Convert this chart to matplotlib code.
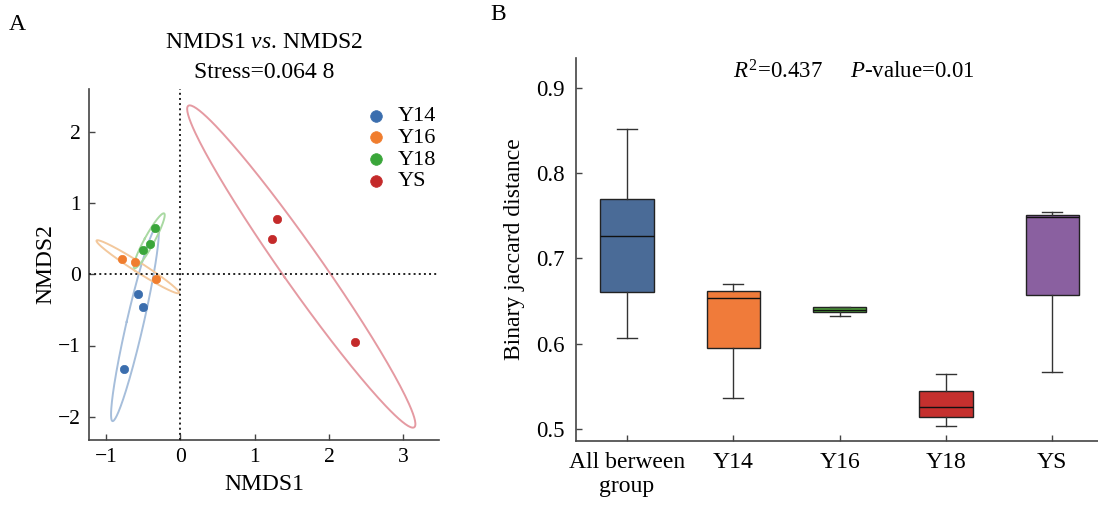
import numpy as np
import matplotlib as mpl
mpl.use('Agg')
import matplotlib.pyplot as plt

mpl.rcParams['font.family'] = 'Liberation Serif'
mpl.rcParams['mathtext.fontset'] = 'custom'
mpl.rcParams['mathtext.rm'] = 'Liberation Serif'
mpl.rcParams['mathtext.it'] = 'Liberation Serif:italic'
mpl.rcParams['axes.unicode_minus'] = True

# ---- panel A data (NMDS scores) ----
groups = ['Y14', 'Y16', 'Y18', 'YS']
nmds1 = {
    'Y14': [-0.76, -0.565, -0.51],
    'Y16': [-0.78, -0.61, -0.33],
    'Y18': [-0.51, -0.41, -0.34],
    'YS': [1.30, 1.23, 2.35],
}
nmds2 = {
    'Y14': [-1.33, -0.28, -0.46],
    'Y16': [0.22, 0.17, -0.066],
    'Y18': [0.345, 0.425, 0.65],
    'YS': [0.785, 0.495, -0.945],
}
point_colors = ['#3b6eae', '#f07d2e', '#3aa63a', '#c42a2a']
ellipse_colors = ['#a6bedb', '#f3c89c', '#a9d9a2', '#e59aa2']

# ---- panel B data (box stats) ----
box_labels = ['All berween\ngroup', 'Y14', 'Y16', 'Y18', 'YS']
whislo = [0.607, 0.536, 0.632, 0.504, 0.567]
q1 = [0.661, 0.595, 0.637, 0.514, 0.657]
med = [0.726, 0.654, 0.640, 0.526, 0.749]
q3 = [0.770, 0.662, 0.643, 0.545, 0.751]
whishi = [0.852, 0.670, 0.643, 0.565, 0.755]
box_colors = ['#4a6b97', '#f07b3a', '#4f9e3b', '#c5302e', '#8a60a0']


def conf_ellipse(x, y, scale=np.sqrt(5.991), n=200):
    # 95% normal ellipse from sample covariance
    x = np.asarray(x)
    y = np.asarray(y)
    cov = np.cov(x, y)
    vals, vecs = np.linalg.eigh(cov)
    t = np.linspace(0, 2*np.pi, n)
    circ = np.vstack([np.cos(t), np.sin(t)])
    pts = vecs @ (np.sqrt(np.maximum(vals, 0))[:, None]*circ)*scale
    return x.mean() + pts[0], y.mean() + pts[1]


fig = plt.figure(figsize=(10.98, 5.05), dpi=100)

# ---------------- panel A ----------------
axA = fig.add_axes([89/1098, 65/505, 350/1098, 351/505])
for g, pc, ec in zip(groups, point_colors, ellipse_colors):
    ex, ey = conf_ellipse(nmds1[g], nmds2[g])
    axA.plot(ex, ey, color=ec, lw=1.4, zorder=2)
for g, pc in zip(groups, point_colors):
    axA.scatter(nmds1[g], nmds2[g], s=36, color=pc, edgecolors=pc, linewidths=0.5,
                zorder=4, label=g)
axA.axhline(0, color='#222222', ls=':', lw=1.4, zorder=3)
axA.axvline(0, color='#222222', ls=':', lw=1.4, zorder=3)
axA.set_xlim(-1.23, 3.48)
axA.set_ylim(-2.33, 2.61)
axA.set_xticks([-1, 0, 1, 2, 3])
axA.set_yticks([-2, -1, 0, 1, 2])
for s in ['top', 'right']:
    axA.spines[s].set_visible(False)
for s in ['left', 'bottom']:
    axA.spines[s].set_color('#444444')
    axA.spines[s].set_linewidth(1.2)
axA.tick_params(direction='in', length=4, width=1, color='#444444', labelsize=15.5, pad=6)
axA.set_xlabel('NMDS1', fontsize=17, labelpad=5)
axA.set_ylabel('NMDS2', fontsize=17, labelpad=1)
axA.legend(loc='upper right', bbox_to_anchor=(1.03, 0.99), frameon=False, fontsize=16,
           handletextpad=0.0, labelspacing=0.05, markerscale=1.4, borderaxespad=0.2)
fig.text(264/1098, 1 - 42/505, 'NMDS1 $\\mathit{vs}$. NMDS2', ha='center', va='center', fontsize=17)
fig.text(264/1098, 1 - 72/505, 'Stress=0.064 8', ha='center', va='center', fontsize=17)
fig.text(17/1098, 1 - 24/505, 'A', ha='center', va='center', fontsize=17)

# ---------------- panel B ----------------
axB = fig.add_axes([576/1098, 64/505, 522/1098, 383/505])
stats = []
for i in range(len(box_labels)):
    stats.append(dict(whislo=whislo[i], q1=q1[i], med=med[i], q3=q3[i], whishi=whishi[i],
                      fliers=[], label=box_labels[i]))
bp = axB.bxp(stats, positions=range(len(stats)), widths=0.5, patch_artist=True,
             showfliers=False, capwidths=0.19,
             boxprops=dict(edgecolor='#222222', linewidth=1.0),
             medianprops=dict(color='#111111', linewidth=1.0),
             whiskerprops=dict(color='#333333', linewidth=1.0),
             capprops=dict(color='#333333', linewidth=1.0))
for patch, c in zip(bp['boxes'], box_colors):
    patch.set_facecolor(c)
axB.set_xlim(-0.48, 4.43)
axB.set_ylim(0.486, 0.935)
axB.set_yticks([0.5, 0.6, 0.7, 0.8, 0.9])
axB.set_xticklabels(box_labels, linespacing=1.15)
for s in ['top', 'right']:
    axB.spines[s].set_visible(False)
for s in ['left', 'bottom']:
    axB.spines[s].set_color('#444444')
    axB.spines[s].set_linewidth(1.2)
axB.tick_params(direction='in', length=4, width=1, color='#444444', pad=8)
axB.tick_params(axis='x', labelsize=17)
axB.tick_params(axis='y', labelsize=16.5)
axB.set_ylabel('Binary jaccard distance', fontsize=17, labelpad=8)
axB.text((854 - 576)/522, 1 - (71.5 - 58)/383, '$\\mathit{R}^{2}$=0.437     $\\mathit{P}$-value=0.01',
         transform=axB.transAxes, ha='center', va='center', fontsize=16.5)
fig.text(498/1098, 1 - 15/505, 'B', ha='center', va='center', fontsize=17)

fig.savefig('out.png', dpi=100)
